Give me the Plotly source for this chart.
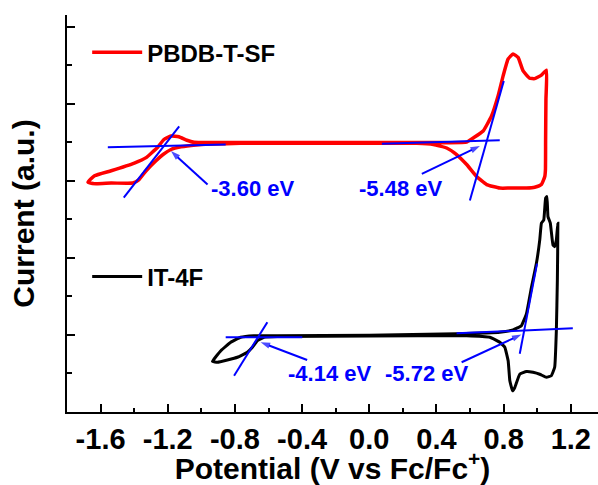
import plotly.graph_objects as go

# Cyclic voltammetry loops (potential in V vs Fc/Fc+, current in offset arbitrary units)
pbdb_v = [-1.675, -1.636, -1.537, -1.399, -1.329, -1.260, -1.223, -1.181, -1.134, -1.086,
          -1.043, -0.885, -0.4, 0.0, 0.382, 0.580, 0.619, 0.678, 0.728, 0.767, 0.797,
          0.827, 0.856, 0.886, 0.916, 0.955, 0.985, 1.025, 1.055, 1.052, 1.050, 1.049,
          1.045, 1.025, 0.985, 0.936, 0.837, 0.777, 0.699, 0.639, 0.580, 0.520, 0.461,
          0.382, 0.283, 0.085, -0.4, -0.766, -0.944, -1.033, -1.122, -1.181, -1.228,
          -1.270, -1.329, -1.371, -1.408, -1.537, -1.626, -1.675]
pbdb_i = [5.96, 6.13, 6.26, 6.46, 6.60, 6.87, 7.07, 7.16, 7.14, 7.05,
          7.00, 6.99, 6.99, 6.99, 6.99, 7.00, 7.11, 7.29, 7.68, 8.20, 8.72,
          9.16, 9.29, 9.20, 8.85, 8.66, 8.65, 8.74, 8.87, 8.11, 7.07, 6.29,
          6.11, 5.90, 5.83, 5.81, 5.81, 5.81, 5.90, 6.11, 6.42, 6.68, 6.85,
          6.94, 6.97, 6.97, 6.97, 6.97, 6.95, 6.93, 6.88, 6.81, 6.68,
          6.52, 6.26, 6.03, 5.94, 5.94, 5.92, 5.96]

it4f_v = [-0.934, -0.884, -0.825, -0.766, -0.687, -0.548, 0.0, 0.52, 0.777, 0.856,
          0.906, 0.936, 0.966, 0.995, 1.015, 1.025, 1.039, 1.050, 1.058, 1.064,
          1.078, 1.094, 1.104, 1.114, 1.123, 1.120, 1.114, 1.104, 1.084, 1.055,
          1.015, 0.975, 0.936, 0.896, 0.866, 0.853, 0.837, 0.827, 0.807, 0.777,
          0.718, 0.580, 0.0, -0.548, -0.627, -0.666, -0.696, -0.726, -0.785,
          -0.845, -0.904, -0.934]
it4f_i = [1.31, 1.59, 1.81, 1.94, 1.98, 1.98, 1.99, 2.03, 2.07, 2.13,
          2.24, 2.55, 3.24, 3.85, 4.46, 4.90, 4.98, 5.55, 5.59, 5.07,
          4.90, 4.33, 4.29, 4.46, 4.90, 3.42, 2.11, 1.16, 0.94, 0.90,
          0.98, 1.03, 1.05, 0.98, 0.63, 0.55, 0.81, 1.33, 1.68, 1.81,
          1.94, 1.98, 1.97, 1.96, 1.94, 1.85, 1.68, 1.55, 1.42,
          1.35, 1.29, 1.31]

# Onset tangent lines: (v_start, i_start, v_end, i_end)
tangents = [
    (-1.557, 6.87, -0.855, 6.94),
    (-1.462, 5.56, -1.132, 7.41),
    (0.075, 6.96, 0.777, 7.05),
    (0.599, 5.49, 0.801, 8.59),
    (-0.855, 1.94, -0.399, 1.94),
    (-0.805, 0.94, -0.607, 2.33),
    (0.52, 2.04, 1.212, 2.17),
    (0.896, 1.51, 0.999, 3.85),
]

# Energy level labels and their pointer arrows
level_labels = ["-3.60 eV", "-5.48 eV", "-4.14 eV", "-5.72 eV"]
label_v = [-0.693, 0.184, -0.238, 0.338]
label_i = [5.80, 5.80, 1.01, 1.01]
arrow_tail_v = [-0.963, 0.313, -0.370, 0.55]
arrow_tail_i = [5.90, 6.18, 1.35, 1.29]
arrow_head_v = [-1.181, 0.659, -0.647, 0.906]
arrow_head_i = [6.77, 6.90, 1.81, 2.01]

x_ticks = [-1.6, -1.2, -0.8, -0.4, 0.0, 0.4, 0.8, 1.2]
x_tick_text = ["-1.6", "-1.2", "-0.8", "-0.4", "0.0", "0.4", "0.8", "1.2"]

FONT = "Liberation Sans, Arial, sans-serif"
BLUE = "#0000FF"

fig = go.Figure()

fig.add_trace(go.Scatter(
    x=pbdb_v, y=pbdb_i, mode="lines", name="PBDB-T-SF",
    line=dict(color="#FF0000", width=3.5, shape="spline", smoothing=0.4),
    legend="legend",
))
fig.add_trace(go.Scatter(
    x=it4f_v, y=it4f_i, mode="lines", name="IT-4F",
    line=dict(color="#000000", width=3, shape="spline", smoothing=0.3),
    legend="legend2",
))

for v0, i0, v1, i1 in tangents:
    fig.add_trace(go.Scatter(
        x=[v0, v1], y=[i0, i1], mode="lines", showlegend=False,
        line=dict(color=BLUE, width=2), hoverinfo="skip",
    ))

# Pointer arrows: a line with an arrowhead marker oriented along the segment
for tv, ti, hv, hi in zip(arrow_tail_v, arrow_tail_i, arrow_head_v, arrow_head_i):
    fig.add_trace(go.Scatter(
        x=[tv, hv], y=[ti, hi], mode="lines+markers", showlegend=False,
        line=dict(color=BLUE, width=2), hoverinfo="skip",
        marker=dict(symbol=["circle", "arrow"], size=[0, 10], color=BLUE,
                    angleref="previous", line=dict(width=0)),
    ))

for txt, lv, li in zip(level_labels, label_v, label_i):
    fig.add_annotation(
        x=lv, y=li, xref="x", yref="y", text=txt, showarrow=False,
        font=dict(family=FONT, size=22, color=BLUE, weight="bold"),
    )

legend_common = dict(
    bgcolor="rgba(0,0,0,0)", borderwidth=0, itemwidth=50,
    font=dict(family=FONT, size=24, color="#000000", weight="bold"),
    xanchor="left", yanchor="middle", tracegroupgap=0,
)

fig.update_layout(
    width=598, height=485,
    margin=dict(l=67, r=0, t=15, b=73),
    paper_bgcolor="white", plot_bgcolor="white",
    font=dict(family=FONT, color="#000000"),
    showlegend=True,
    legend=dict(x=0.038, y=0.905, **legend_common),
    legend2=dict(x=0.038, y=0.34, **legend_common),
    xaxis=dict(
        range=[-1.8, 1.362], showgrid=False, zeroline=False,
        showline=True, linecolor="black", linewidth=2,
        tickmode="array", tickvals=x_ticks, ticktext=x_tick_text,
        ticks="inside", ticklen=8, tickwidth=1.5, tickcolor="black",
        minor=dict(dtick=0.2, tick0=0, ticks="inside", ticklen=4.5,
                   tickwidth=1.5, tickcolor="black"),
        tickfont=dict(family=FONT, size=29, weight="bold"),
        title=dict(text="Potential (V vs Fc/Fc<sup>+</sup>)", standoff=2,
                   font=dict(family=FONT, size=30, weight="bold")),
    ),
    xaxis2=dict(
        overlaying="x", side="top", matches="x", range=[-1.8, 1.362],
        showgrid=False, zeroline=False, showline=True, linecolor="black",
        linewidth=2, showticklabels=False, tickmode="linear", tick0=0,
        dtick=0.2, ticks="inside", ticklen=3, tickwidth=1.5, tickcolor="black",
    ),
    yaxis=dict(
        range=[0, 10.3], showgrid=False, zeroline=False,
        showline=True, linecolor="black", linewidth=2,
        showticklabels=False, tickmode="linear", tick0=0, dtick=2,
        ticks="inside", ticklen=8, tickwidth=1.5, tickcolor="black",
        minor=dict(dtick=1, tick0=0, ticks="inside", ticklen=5,
                   tickwidth=1.5, tickcolor="black"),
        title=dict(text="Current (a.u.)", standoff=22,
                   font=dict(family=FONT, size=30, weight="bold")),
    ),
)

fig.write_html("out.html")
